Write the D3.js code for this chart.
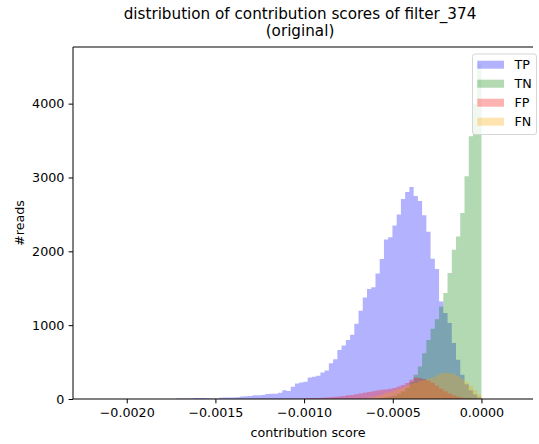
<!DOCTYPE html>
<html>
<head>
<meta charset="utf-8">
<script src="https://cdn.jsdelivr.net/npm/d3@7/dist/d3.min.js"></script>
<style>
  html, body { margin: 0; padding: 0; background: #fff; }
  svg { display: block; font-family: "DejaVu Sans", sans-serif; }
</style>
</head>
<body>
<svg id="chart" width="539" height="444"></svg>
<script>
// Histogram bins: 72 equal-width bins ending at 0
const binWidth = 0.0000239;
const binCount = 72;
const binEnd = 0;

const seriesNames = ["TP", "TN", "FP", "FN"];
const seriesColors = ["blue", "green", "red", "orange"];

const countsTP = [6, 7, 8, 8, 12, 15, 15, 10, 6, 8, 18, 20, 20, 22, 25, 35, 38, 40, 52, 50,
  55, 68, 70, 70, 85, 120, 110, 165, 210, 222, 235, 290, 300, 315, 360, 385, 485, 540, 665, 725,
  800, 870, 1020, 1195, 1375, 1490, 1515, 1700, 1895, 2160, 2190, 2350, 2500, 2710, 2805, 2870,
  2750, 2680, 2490, 2265, 1900, 1760, 1320, 1165, 1030, 760, 530, 330, 200, 120, 60, 20];

const countsTN = [0, 0, 0, 0, 0, 0, 0, 0, 0, 0, 0, 0, 0, 0, 0, 0, 0, 0, 0, 0,
  0, 0, 0, 0, 0, 0, 0, 0, 0, 0, 0, 0, 0, 0, 0, 0, 0, 0, 0, 0,
  0, 0, 0, 0, 2, 3, 5, 8, 12, 20, 30, 45, 70, 100, 150, 230,
  330, 440, 620, 800, 950, 1080, 1250, 1435, 1705, 2020, 2200, 2520, 3015, 3560, 4000, 4540];

const countsFP = [0, 0, 0, 0, 0, 0, 0, 0, 0, 0, 0, 0, 0, 0, 0, 1, 1, 1, 1, 2,
  2, 2, 2, 3, 3, 3, 3, 4, 4, 5, 8, 10, 12, 15, 18, 22, 25, 30, 35, 40,
  50, 55, 65, 75, 85, 95, 105, 115, 125, 130, 140, 150, 170, 190, 215, 260,
  290, 285, 270, 250, 220, 180, 140, 105, 75, 50, 30, 18, 10, 5, 2, 1];

const countsFN = [0, 0, 0, 0, 0, 0, 0, 0, 0, 0, 0, 0, 0, 0, 0, 0, 0, 0, 0, 0,
  0, 0, 0, 0, 0, 0, 0, 0, 0, 0, 0, 0, 0, 0, 0, 0, 1, 2, 2, 3,
  4, 5, 6, 8, 10, 20, 30, 45, 60, 80, 95, 115, 135, 155, 180, 205,
  220, 240, 255, 270, 290, 320, 345, 355, 350, 340, 310, 270, 230, 180, 120, 60];

const xTicks = [-0.0020, -0.0015, -0.0010, -0.0005, 0.0000];
const yTicks = [0, 1000, 2000, 3000, 4000];
const xDomain = [-0.002303, 0.000347];

const titleLines = ["distribution of contribution scores of filter_374", "(original)"];
const xLabel = "contribution score";
const yLabel = "#reads";

const allCounts = [countsTP, countsTN, countsFP, countsFN];

// layout
const W = 539, H = 444;
const plot = { left: 73, top: 47, right: 543, bottom: 399 };
const spineEnd = 533;
const fs = 12.7;

const svg = d3.select("#chart");

const x = d3.scaleLinear().domain(xDomain).range([plot.left, plot.right]);
const yMax = d3.max(allCounts, c => d3.max(c)) * 1.05;
const y = d3.scaleLinear().domain([0, yMax]).range([plot.bottom, plot.top]);

const binStart = binEnd - binCount * binWidth;
const edges = d3.range(binCount + 1).map(i => binStart + i * binWidth);

svg.append("clipPath").attr("id", "plotClip")
  .append("rect")
  .attr("x", plot.left).attr("y", plot.top)
  .attr("width", plot.right - plot.left).attr("height", plot.bottom - plot.top);

const histArea = d3.area()
  .x(d => x(d[0]))
  .y0(y(0))
  .y1(d => y(d[1]))
  .curve(d3.curveStepAfter);

const gBars = svg.append("g").attr("clip-path", "url(#plotClip)");
allCounts.forEach((counts, s) => {
  const pts = counts.map((c, i) => [edges[i], c]);
  pts.push([edges[binCount], counts[binCount - 1]]);
  gBars.append("path")
    .attr("d", histArea(pts))
    .attr("fill", seriesColors[s])
    .attr("fill-opacity", 0.3)
    .attr("stroke", "none");
});

// axes
const fmtX = v => (v < 0 ? "\u2212" : "") + Math.abs(v).toFixed(4);
const xAxis = d3.axisBottom(x).tickValues(xTicks).tickFormat(fmtX)
  .tickSizeInner(4.4).tickSizeOuter(0).tickPadding(4.2);
const yAxis = d3.axisLeft(y).tickValues(yTicks).tickFormat(d3.format("d"))
  .tickSizeInner(4.4).tickSizeOuter(0).tickPadding(4.2);

const gx = svg.append("g").attr("transform", `translate(0,${plot.bottom})`).call(xAxis);
const gy = svg.append("g").attr("transform", `translate(${plot.left},0)`).call(yAxis);
[gx, gy].forEach(g => {
  g.select(".domain").remove();
  g.selectAll("text").attr("font-family", "DejaVu Sans").attr("font-size", fs).attr("fill", "#000");
  g.selectAll("line").attr("stroke", "#000").attr("stroke-width", 1);
});

// spines
const spine = svg.append("g").attr("stroke", "#000").attr("stroke-width", 1).attr("fill", "none");
spine.append("line").attr("x1", plot.left).attr("x2", plot.left).attr("y1", plot.top).attr("y2", plot.bottom);
spine.append("line").attr("x1", plot.left).attr("x2", spineEnd).attr("y1", plot.bottom).attr("y2", plot.bottom);
spine.append("line").attr("x1", plot.left).attr("x2", spineEnd).attr("y1", plot.top).attr("y2", plot.top);

// title
svg.append("text").attr("x", 300).attr("y", 18.5)
  .attr("text-anchor", "middle").attr("font-size", 15.2).text(titleLines[0]);
svg.append("text").attr("x", 300).attr("y", 36)
  .attr("text-anchor", "middle").attr("font-size", 15.2).text(titleLines[1]);

// axis labels
svg.append("text").attr("x", 308).attr("y", 437)
  .attr("text-anchor", "middle").attr("font-size", fs).text(xLabel);
svg.append("text").attr("transform", `translate(24,${(plot.top + plot.bottom) / 2}) rotate(-90)`)
  .attr("text-anchor", "middle").attr("font-size", fs).text(yLabel);

// legend
const leg = svg.append("g");
leg.append("rect")
  .attr("x", 472.5).attr("y", 54).attr("width", 64).attr("height", 80.5)
  .attr("rx", 2.5).attr("ry", 2.5)
  .attr("fill", "#fff").attr("fill-opacity", 0.8)
  .attr("stroke", "#d6d6d6").attr("stroke-width", 1);
seriesNames.forEach((name, i) => {
  const cy = 64.7 + i * 19;
  leg.append("rect")
    .attr("x", 477.3).attr("y", cy - 4).attr("width", 26.7).attr("height", 8)
    .attr("fill", seriesColors[i]).attr("fill-opacity", 0.3);
  leg.append("text").attr("x", 514.5).attr("y", cy + 4.6)
    .attr("font-size", fs).text(name);
});
</script>
</body>
</html>
